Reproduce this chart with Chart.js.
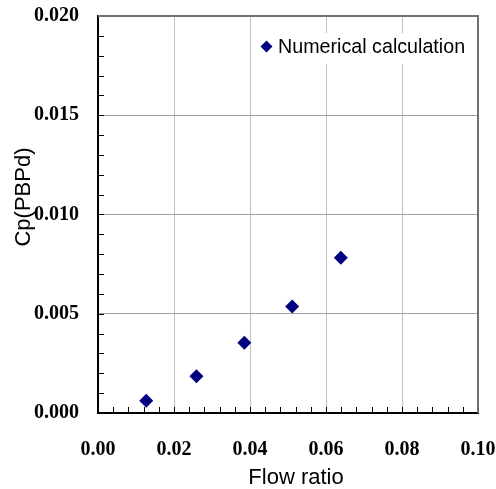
<!DOCTYPE html>
<html>
<head>
<meta charset="utf-8">
<script src="https://cdn.jsdelivr.net/npm/chart.js@4/dist/chart.umd.min.js"></script>
<style>
  body { margin: 0; background: #fff; }
  canvas { display: block; }
</style>
</head>
<body>
<canvas id="cp_chart" width="496" height="489"></canvas>
<script>
// DATA
const series_label = "Numerical calculation";
const flow_ratio = [0.0127, 0.0259, 0.0385, 0.0511, 0.0639];
const cp_values = [0.00062, 0.00185, 0.00354, 0.00537, 0.00782];

const x_title = "Flow ratio";
const y_title = "Cp(PBPd)";

// AXIS RANGES
const x_min = 0, x_max = 0.1, x_step = 0.02, x_minor = 0.004;
const y_min = 0, y_max = 0.02, y_step = 0.005, y_minor = 0.001;

const points = flow_ratio.map((x, i) => ({ x: x, y: cp_values[i] }));

const sansFont = "'Liberation Sans', Arial, sans-serif";
const serifFont = "'Liberation Serif', 'Times New Roman', serif";

// frame, minor ticks, titles and legend in the Excel look
const excelFrame = {
  id: "excelFrame",
  afterDraw(chart) {
    const ctx = chart.ctx;
    const area = chart.chartArea;
    const xs = chart.scales.x;
    const ys = chart.scales.y;
    ctx.save();

    // minor ticks (inside)
    ctx.strokeStyle = "#000";
    ctx.lineWidth = 1;
    ctx.beginPath();
    for (let v = x_min + x_minor; v < x_max - 1e-9; v += x_minor) {
      const px = Math.round(xs.getPixelForValue(v)) + 0.5;
      ctx.moveTo(px, area.bottom);
      ctx.lineTo(px, area.bottom - 6);
    }
    for (let v = y_min + y_minor; v < y_max - 1e-9; v += y_minor) {
      const py = Math.round(ys.getPixelForValue(v)) + 0.5;
      ctx.moveTo(area.left, py);
      ctx.lineTo(area.left + 6, py);
    }
    ctx.stroke();

    // top and right border
    ctx.strokeStyle = "#707070";
    ctx.lineWidth = 2;
    ctx.beginPath();
    ctx.moveTo(area.left, area.top);
    ctx.lineTo(area.right, area.top);
    ctx.lineTo(area.right, area.bottom);
    ctx.stroke();

    // legend
    ctx.fillStyle = "#fff";
    ctx.fillRect(256, 33, 216, 31);
    ctx.fillStyle = "#000080";
    ctx.beginPath();
    ctx.moveTo(266.5, 40.5);
    ctx.lineTo(272.5, 46.5);
    ctx.lineTo(266.5, 52.5);
    ctx.lineTo(260.5, 46.5);
    ctx.closePath();
    ctx.fill();
    ctx.fillStyle = "#000";
    ctx.font = "19.7px " + sansFont;
    ctx.textAlign = "left";
    ctx.textBaseline = "middle";
    ctx.fillText(chart.data.datasets[0].label, 278, 48);

    // axis titles
    ctx.font = "22px " + sansFont;
    ctx.textAlign = "center";
    ctx.fillText(x_title, 296, 478);
    ctx.translate(24, 197);
    ctx.rotate(-Math.PI / 2);
    ctx.fillText(y_title, 0, 0);

    ctx.restore();
  },
};

new Chart(document.getElementById("cp_chart").getContext("2d"), {
  type: "scatter",
  data: {
    datasets: [
      {
        label: series_label,
        data: points,
        pointStyle: "rectRot",
        pointRadius: 7,
        pointHoverRadius: 7,
        backgroundColor: "#000080",
        borderColor: "#000080",
        borderWidth: 0,
      },
    ],
  },
  options: {
    responsive: false,
    animation: false,
    layout: { padding: { top: 16, right: 18, left: 0, bottom: 0 } },
    plugins: {
      legend: { display: false },
      tooltip: { enabled: false },
    },
    scales: {
      x: {
        type: "linear",
        min: x_min,
        max: x_max,
        afterFit(scale) {
          scale.height = 76;
          scale.paddingLeft = 0;
          scale.paddingRight = 0;
        },
        grid: { color: "#c0c0c0", lineWidth: 1, drawTicks: false },
        border: { color: "#000", width: 2 },
        ticks: {
          stepSize: x_step,
          padding: 25,
          color: "#000",
          font: { family: serifFont, size: 20, weight: "bold" },
          callback: (v) => v.toFixed(2),
        },
      },
      y: {
        type: "linear",
        min: y_min,
        max: y_max,
        afterFit(scale) {
          scale.width = 98;
          scale.paddingTop = 0;
          scale.paddingBottom = 0;
        },
        grid: { color: "#a0a0a0", lineWidth: 1, drawTicks: false },
        border: { color: "#000", width: 2 },
        ticks: {
          stepSize: y_step,
          padding: 19,
          color: "#000",
          font: { family: serifFont, size: 20, weight: "bold" },
          callback: (v) => v.toFixed(3),
        },
      },
    },
  },
  plugins: [excelFrame],
});
</script>
</body>
</html>
